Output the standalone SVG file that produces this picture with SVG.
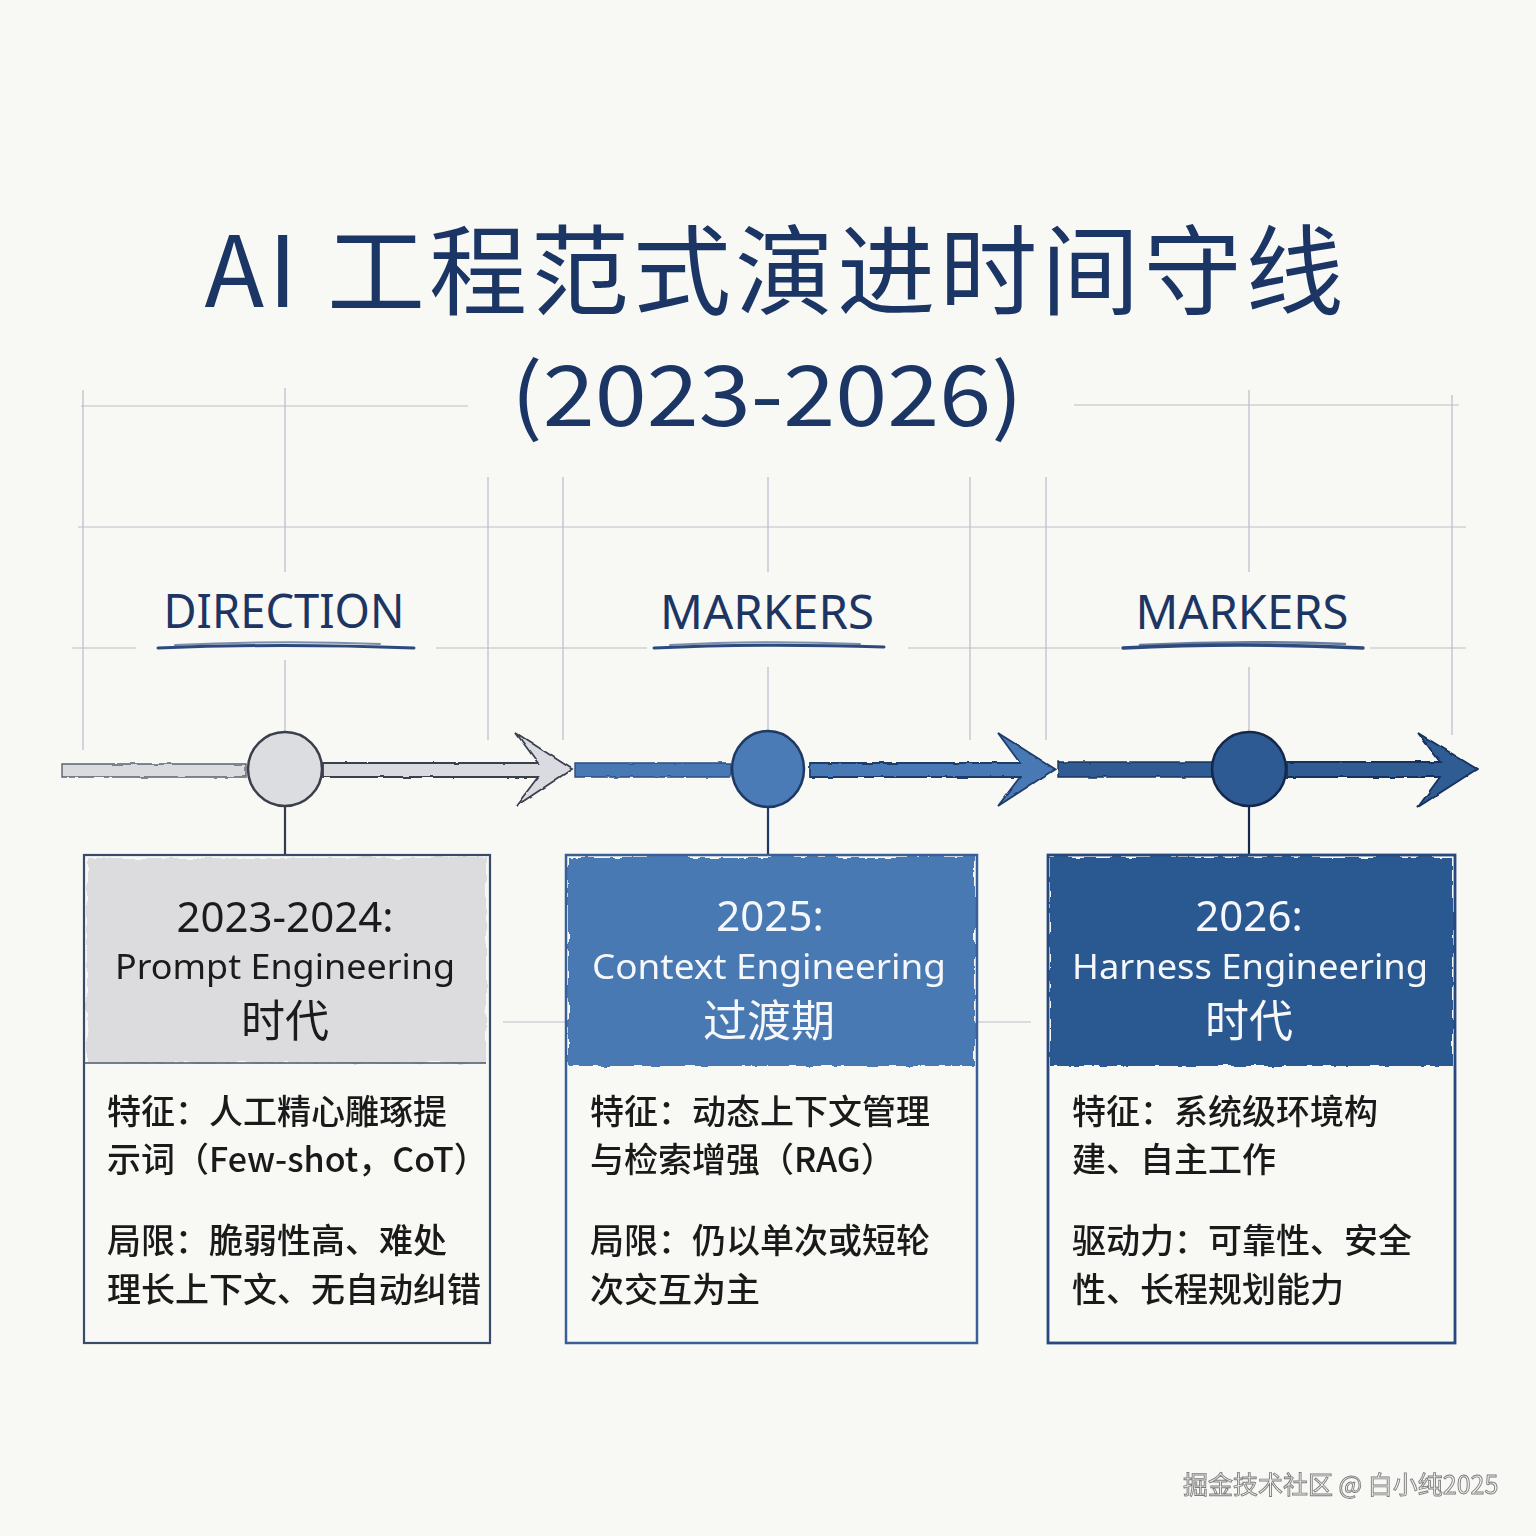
<svg xmlns="http://www.w3.org/2000/svg" width="1536" height="1536" viewBox="0 0 1536 1536">
<defs>
<style>
.grid{stroke:#b9bdc8;stroke-width:1.2;fill:none}
.title{font-family:"Noto Sans CJK SC","Noto Sans",sans-serif;font-weight:400;fill:#1b3565}
.label{font-family:"Noto Sans","Noto Sans CJK SC",sans-serif;font-weight:400;font-size:48px;fill:#1c3563;text-anchor:middle}
.ul{fill:none;stroke:#2c4a7c;stroke-linecap:round}
.hd{font-family:"Noto Sans","Noto Sans CJK SC",sans-serif;text-anchor:middle}
.hd-cjk{font-family:"Noto Sans CJK SC",sans-serif;text-anchor:middle;font-size:44px}
.body{font-family:"Noto Sans CJK SC","Noto Sans",sans-serif;font-size:34px;font-weight:500;fill:#1a1a1a}
.link{stroke-width:2.2;fill:none}
.wm{font-family:"Noto Sans CJK SC","Noto Sans",sans-serif;font-size:25px;fill:#f3f3f3;stroke:#7d7d7d;stroke-width:0.9}
</style>
<filter id="rough" x="-5%" y="-5%" width="110%" height="110%">
<feTurbulence type="fractalNoise" baseFrequency="0.06" numOctaves="3" seed="4"/>
<feDisplacementMap in="SourceGraphic" scale="7" xChannelSelector="R" yChannelSelector="G"/>
</filter>
<filter id="rough2" x="-5%" y="-20%" width="110%" height="140%">
<feTurbulence type="fractalNoise" baseFrequency="0.08" numOctaves="2" seed="9"/>
<feDisplacementMap in="SourceGraphic" scale="3" xChannelSelector="R" yChannelSelector="G"/>
</filter>
</defs>
<rect width="1536" height="1536" fill="#f8f8f5"/>

<g id="grid">
<path class="grid" d="M81,406H468M1074,405H1459M78,527H1466M72,648H136M436,648H647M908,648H1120M1370,648H1466M503,1022H565M976,1022H1031"/>
<path class="grid" d="M83,390V750M285,388V572M285,660V732M488,477V740M563,477V740M768,477V572M768,667V731M970,477V740M1046,477V740M1249,390V572M1249,667V731M1452,395V735"/>
</g>

<g id="title">
<text class="title" x="774" y="307" font-size="98" text-anchor="middle" textLength="1139" lengthAdjust="spacing">AI 工程范式演进时间守线</text>
<text class="title" x="767" y="426" font-size="84" text-anchor="middle" font-family="Noto Sans, sans-serif" textLength="512" lengthAdjust="spacingAndGlyphs">(2023-2026)</text>
</g>

<g id="labels">
<g id="label-direction">
<text class="label" x="284" y="628" textLength="241" lengthAdjust="spacingAndGlyphs">DIRECTION</text>
<path class="ul" d="M158,648 Q280,643 414,648" stroke-width="3"/>
<path class="ul" d="M175,645 Q280,640 380,644" stroke-width="2" opacity="0.6"/>
</g>
<g id="label-markers-1">
<text class="label" x="767" y="629" textLength="214" lengthAdjust="spacingAndGlyphs">MARKERS</text>
<path class="ul" d="M654,648 Q760,643 884,647" stroke-width="3"/>
<path class="ul" d="M670,645 Q760,640 860,644" stroke-width="2" opacity="0.6"/>
</g>
<g id="label-markers-2">
<text class="label" x="1242" y="629" textLength="213" lengthAdjust="spacingAndGlyphs">MARKERS</text>
<path class="ul" d="M1123,648 Q1240,642 1363,648" stroke-width="3.5"/>
<path class="ul" d="M1140,645 Q1240,640 1345,644" stroke-width="2.5" opacity="0.7"/>
</g>
</g>

<g id="connectors">
<g filter="url(#rough2)">
<path d="M62,764H246V777H62Z" fill="#d6d8dd" stroke="#4a5160" stroke-width="1.4" opacity="0.9"/>
<path d="M323,763H538L516,733L572,769L516,806L538,777H323Z" fill="#d9dbe0" stroke="#3b4150" stroke-width="1.8" stroke-linejoin="miter"/>
<path d="M575,763H731V777H575Z" fill="#4a79b4" stroke="#2a4d80" stroke-width="1.4"/>
<path d="M810,763H1020L998,733L1055,769L998,806L1020,777H810Z" fill="#4a79b4" stroke="#1f3d6b" stroke-width="1.8"/>
<path d="M1058,762H1212V777H1058Z" fill="#2f5b93" stroke="#1a355f" stroke-width="1.4"/>
<path d="M1287,762H1440L1418,733L1477,769L1418,807L1440,777H1287Z" fill="#2f5b93" stroke="#17325c" stroke-width="1.8"/>
</g>
<path class="link" d="M285,806V856" stroke="#343b49"/>
<path class="link" d="M768,806V856" stroke="#1e3963"/>
<path class="link" d="M1249,806V856" stroke="#14284a"/>
</g>

<g id="marker-1"><circle cx="285" cy="769" r="37" fill="#dcdde1" stroke="#3a3f4b" stroke-width="2.5"/></g>
<g id="marker-2"><ellipse cx="768" cy="769" rx="36" ry="38" fill="#4b7bb6" stroke="#1e3963" stroke-width="2.5"/></g>
<g id="marker-3"><circle cx="1249" cy="769" r="37" fill="#2e5a93" stroke="#14284a" stroke-width="2.5"/></g>

<g id="card-1">
<rect x="87" y="858" width="399" height="205" fill="#dcdcde" filter="url(#rough)"/>
<rect x="84" y="855" width="406" height="488" fill="none" stroke="#3a4a6a" stroke-width="2.2"/>
<path d="M84,1063H486" stroke="#4a5568" stroke-width="1.5"/>
<text class="hd" x="285" y="932" font-size="42" fill="#1b1b1b">2023-2024:</text>
<text class="hd" x="285" y="979" font-size="35" fill="#1b1b1b" textLength="340" lengthAdjust="spacingAndGlyphs">Prompt Engineering</text>
<text class="hd-cjk" x="285" y="1037" fill="#1b1b1b">时代</text>
<text class="body" x="107" y="1124">特征：人工精心雕琢提</text>
<text class="body" x="107" y="1172">示词（Few-shot，CoT）</text>
<text class="body" x="107" y="1253">局限：脆弱性高、难处</text>
<text class="body" x="107" y="1302">理长上下文、无自动纠错</text>
</g>

<g id="card-2">
<rect x="568" y="857" width="407" height="209" fill="#4a79b3" filter="url(#rough)"/>
<rect x="566" y="855" width="411" height="488" fill="none" stroke="#3a5f96" stroke-width="2.5"/>
<text class="hd" x="770" y="931" font-size="42" fill="#f5f7fa">2025:</text>
<text class="hd" x="769" y="979" font-size="35" fill="#f5f7fa" textLength="354" lengthAdjust="spacingAndGlyphs">Context Engineering</text>
<text class="hd-cjk" x="769" y="1037" fill="#f5f7fa">过渡期</text>
<text class="body" x="590" y="1124">特征：动态上下文管理</text>
<text class="body" x="590" y="1172">与检索增强（RAG）</text>
<text class="body" x="590" y="1253">局限：仍以单次或短轮</text>
<text class="body" x="590" y="1302">次交互为主</text>
</g>

<g id="card-3">
<rect x="1050" y="857" width="403" height="209" fill="#2c5890" filter="url(#rough)"/>
<rect x="1048" y="855" width="407" height="488" fill="none" stroke="#27497d" stroke-width="2.8"/>
<text class="hd" x="1249" y="931" font-size="42" fill="#f5f7fa">2026:</text>
<text class="hd" x="1250" y="979" font-size="35" fill="#f5f7fa" textLength="356" lengthAdjust="spacingAndGlyphs">Harness Engineering</text>
<text class="hd-cjk" x="1249" y="1037" fill="#f5f7fa">时代</text>
<text class="body" x="1072" y="1124">特征：系统级环境构</text>
<text class="body" x="1072" y="1172">建、自主工作</text>
<text class="body" x="1072" y="1253">驱动力：可靠性、安全</text>
<text class="body" x="1072" y="1302">性、长程规划能力</text>
</g>

<g id="watermark">
<text class="wm" x="1183" y="1494">掘金技术社区 @ 白小纯2025</text>
</g>
</svg>
